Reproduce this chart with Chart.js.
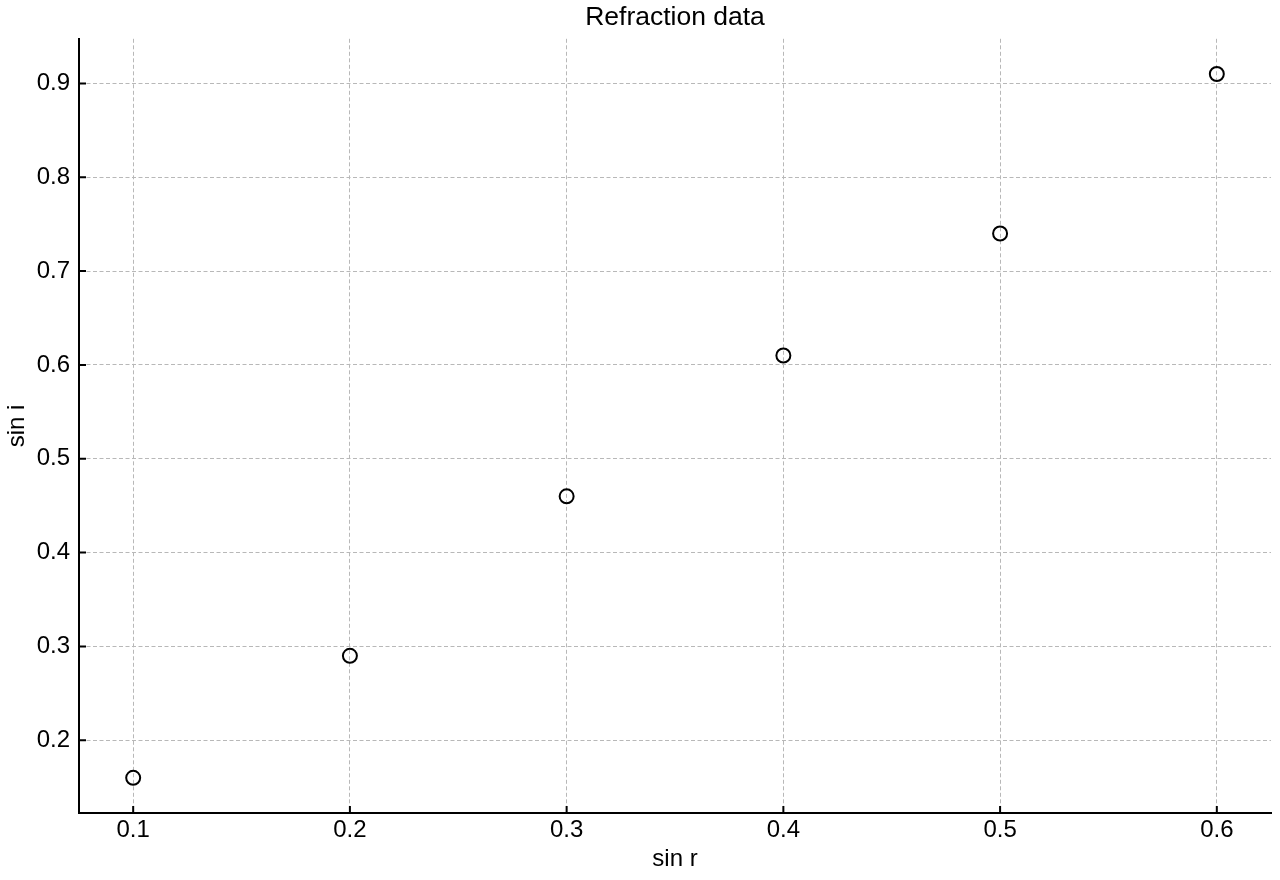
<!DOCTYPE html>
<html>
<head>
<meta charset="utf-8">
<script src="https://cdn.jsdelivr.net/npm/chart.js@4"></script>
<style>
  html, body { margin: 0; padding: 0; background: #fff; }
  #wrap { width: 1280px; height: 880px; }
</style>
</head>
<body>
<div id="wrap"><canvas id="refraction"></canvas></div>
<script>
const sinR = [0.1, 0.2, 0.3, 0.4, 0.5, 0.6]
const sinI = [0.16, 0.29, 0.46, 0.61, 0.74, 0.91]
const xTicks = [0.1, 0.2, 0.3, 0.4, 0.5, 0.6]
const yTicks = [0.2, 0.3, 0.4, 0.5, 0.6, 0.7, 0.8, 0.9]

const FONT = 'Liberation Sans, Arial, Helvetica, sans-serif'

// ticks pointing into the plot area, like the original
const inwardTicks = {
  id: 'inwardTicks',
  afterLayout(chart) {
    // center the title over the plot area, not the whole canvas
    if (chart.titleBlock) {
      chart.titleBlock.left = chart.chartArea.left
      chart.titleBlock.right = chart.chartArea.right
    }
  },
  afterDraw(chart) {
    const ctx = chart.ctx
    const area = chart.chartArea
    const x = chart.scales.x, y = chart.scales.y
    ctx.save()
    ctx.strokeStyle = '#000'
    ctx.lineWidth = 2
    ctx.beginPath()
    x.ticks.forEach(t => {
      const px = x.getPixelForValue(t.value)
      ctx.moveTo(px, area.bottom)
      ctx.lineTo(px, area.bottom - 7)
    })
    y.ticks.forEach(t => {
      const py = y.getPixelForValue(t.value)
      ctx.moveTo(area.left, py)
      ctx.lineTo(area.left + 7, py)
    })
    ctx.stroke()
    ctx.restore()
  }
}

const ctxRefraction = document.getElementById('refraction')
if(ctxRefraction) {
  const refraction = {
    type: 'scatter',
    data: {
      datasets: [
        {
          label: 'data',
          data: sinR.map((v, i) => ({x: v, y: sinI[i]})),
          pointStyle: 'circle',
          pointRadius: 7,
          pointHoverRadius: 7,
          pointBorderWidth: 2,
          pointBorderColor: '#000',
          pointBackgroundColor: 'rgba(0,0,0,0)',
        },
      ],
    },
    options: {
      responsive: true,
      maintainAspectRatio: false,
      animation: false,
      layout: { padding: { left: 0, right: 7, top: 0, bottom: 0 } },
      plugins: {
        legend: { display: false },
        tooltip: { enabled: false },
        title: {
          display: true,
          text: 'Refraction data',
          color: '#000',
          font: { family: FONT, size: 26.5, weight: 'normal' },
          padding: { top: 2, bottom: 5 },
        },
      },
      scales: {
        x: {
          type: 'linear',
          min: 0.075,
          max: 0.625,
          afterBuildTicks: (s) => { s.ticks = xTicks.map(v => ({value: v})) },
          afterFit: (s) => { s.height = 67 },
          ticks: {
            color: '#000',
            padding: 3,
            font: { family: FONT, size: 24 },
            callback: (v) => v.toFixed(1),
          },
          grid: { color: '#b8b8b8', lineWidth: 1, drawTicks: false },
          border: { display: true, color: '#000', width: 2, dash: [4, 2.5] },
          title: {
            display: true,
            text: 'sin r',
            color: '#000',
            font: { family: FONT, size: 24 },
            padding: { top: 0, bottom: 6 },
          },
        },
        y: {
          type: 'linear',
          min: 0.1225,
          max: 0.9475,
          afterBuildTicks: (s) => { s.ticks = yTicks.map(v => ({value: v})) },
          afterFit: (s) => { s.width = 79 },
          ticks: {
            color: '#000',
            padding: 9,
            font: { family: FONT, size: 24 },
            callback: (v) => v.toFixed(1),
          },
          grid: { color: '#b8b8b8', lineWidth: 1, drawTicks: false },
          border: { display: true, color: '#000', width: 2, dash: [4, 2.5] },
          title: {
            display: true,
            text: 'sin i',
            color: '#000',
            font: { family: FONT, size: 24 },
            padding: { top: 3, bottom: 0 },
          },
        },
      },
    },
    plugins: [inwardTicks],
  }

  window.myScatter = new Chart(ctxRefraction, refraction);
}
</script>
</body>
</html>
